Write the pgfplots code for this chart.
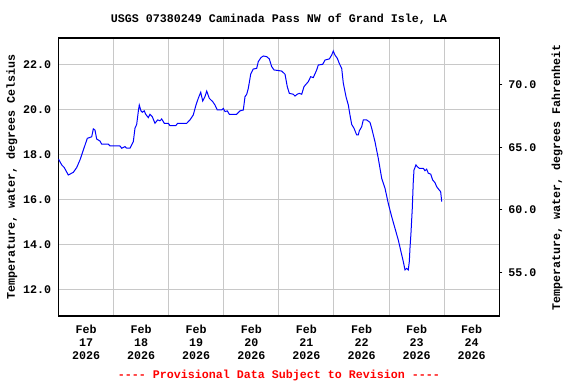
\documentclass[border=0pt]{standalone}
\usepackage{pgfplots}
\pgfplotsset{compat=1.18}
\usepackage{fontspec}
\setmonofont{Liberation Mono}
\newcommand{\chartfont}{\ttfamily\bfseries\fontsize{8.75}{9.75}\selectfont}
\definecolor{gridgray}{RGB}{200,200,200}
\begin{document}
\begin{tikzpicture}
\begin{axis}[
  at={(0,0)}, anchor=south west,
  scale only axis, width=330.6pt, height=208.5pt,
  xmin=0, xmax=8, ymin=10.844, ymax=23.2,
  axis line style={black, line width=1pt},
  xtick={0,1,...,8}, xticklabels={},
  ytick={12,14,...,22},
  major tick length=0pt,
  grid=major, major grid style={gridgray, line width=0.75pt},
  extra x ticks={0.5,1.5,...,7.5},
  extra x tick labels={{Feb\\17\\2026},{Feb\\18\\2026},{Feb\\19\\2026},{Feb\\20\\2026},{Feb\\21\\2026},{Feb\\22\\2026},{Feb\\23\\2026},{Feb\\24\\2026}},
  extra x tick style={grid=none, major tick length=0pt},
  xticklabel style={align=center, font=\chartfont, yshift=-3pt},
  yticklabel style={font=\chartfont, xshift=-2pt},
  yticklabel={\pgfmathprintnumber[fixed,fixed zerofill,precision=1]{\tick}},
  /pgf/number format/assume math mode=true,
  clip=true,
]
\addplot[color={rgb,255:red,0;green,0;blue,255}, line width=0.75pt] coordinates {
(0.000,17.82)(0.058,17.56)(0.105,17.44)(0.178,17.11)(0.269,17.23)(0.330,17.44)(0.390,17.78)
(0.481,18.44)(0.523,18.74)(0.603,18.81)(0.632,19.16)(0.662,19.11)(0.693,18.71)(0.753,18.62)
(0.784,18.48)(0.904,18.48)(0.935,18.40)(1.116,18.40)(1.147,18.30)(1.207,18.37)(1.238,18.30)
(1.298,18.30)(1.358,18.59)(1.388,19.19)(1.419,19.36)(1.448,19.93)(1.466,20.22)(1.497,19.96)
(1.521,19.90)(1.557,19.96)(1.583,19.81)(1.630,19.66)(1.661,19.81)(1.702,19.70)(1.751,19.41)
(1.800,19.56)(1.842,19.52)(1.873,19.60)(1.920,19.41)(1.993,19.41)(2.024,19.30)(2.127,19.30)
(2.163,19.41)(2.327,19.41)(2.387,19.56)(2.446,19.78)(2.495,20.22)(2.537,20.52)(2.581,20.79)
(2.617,20.40)(2.659,20.60)(2.690,20.84)(2.737,20.52)(2.799,20.37)(2.840,20.22)(2.882,20.00)
(2.962,20.00)(2.991,20.07)(3.022,19.93)(3.064,19.96)(3.100,19.81)(3.234,19.81)(3.294,19.96)
(3.354,20.00)(3.385,20.59)(3.416,20.70)(3.445,20.96)(3.488,21.59)(3.535,21.82)(3.597,21.85)
(3.626,22.15)(3.675,22.33)(3.717,22.40)(3.779,22.37)(3.826,22.27)(3.869,21.93)(3.911,21.78)
(4.051,21.73)(4.111,21.59)(4.152,21.04)(4.189,20.74)(4.261,20.70)(4.292,20.62)(4.334,20.70)
(4.370,20.74)(4.414,20.70)(4.456,21.04)(4.534,21.26)(4.577,21.48)(4.624,21.44)(4.686,21.78)
(4.715,22.00)(4.795,22.03)(4.837,22.22)(4.915,22.27)(4.958,22.44)(4.987,22.62)(5.018,22.44)
(5.060,22.30)(5.096,22.07)(5.140,21.85)(5.169,21.19)(5.218,20.59)(5.260,20.22)(5.290,19.78)
(5.321,19.36)(5.363,19.19)(5.412,18.89)(5.441,18.89)(5.459,19.07)(5.503,19.26)(5.532,19.56)
(5.593,19.56)(5.653,19.45)(5.684,19.19)(5.744,18.59)(5.804,17.85)(5.866,16.96)(5.926,16.52)
(5.985,15.85)(6.047,15.26)(6.107,14.74)(6.167,14.22)(6.216,13.70)(6.258,13.26)(6.289,12.89)
(6.319,12.96)(6.348,12.89)(6.367,13.26)(6.379,13.85)(6.397,14.52)(6.421,15.63)(6.439,16.81)
(6.452,17.33)(6.488,17.56)(6.512,17.48)(6.548,17.41)(6.621,17.41)(6.652,17.30)(6.682,17.37)
(6.711,17.19)(6.755,17.15)(6.791,16.89)(6.833,16.77)(6.864,16.59)(6.911,16.44)(6.936,16.37)
(6.955,15.93)
};
\end{axis}
\begin{axis}[
  at={(0,0)}, anchor=south west,
  scale only axis, width=330.6pt, height=208.5pt,
  xmin=0, xmax=8, ymin=51.5192, ymax=73.76,
  axis x line=none,
  axis y line*=right,
  axis line style={black, line width=1pt},
  ytick={55,60,65,70},
  tick align=outside, major tick length=2.25pt,
  tick style={black, line width=0.75pt},
  yticklabel style={font=\chartfont, xshift=1pt},
  yticklabel={\pgfmathprintnumber[fixed,fixed zerofill,precision=1]{\tick}},
  /pgf/number format/assume math mode=true,
]
\addplot[draw=none] coordinates {(0,60)};
\end{axis}
\node[font=\chartfont] at (165.3pt,222.75pt) {USGS 07380249 Caminada Pass NW of Grand Isle, LA};
\node[font=\chartfont, rotate=90] at (-34.9pt,104.25pt) {Temperature, water, degrees Celsius};
\node[font=\chartfont, rotate=90] at (373.9pt,104.25pt) {Temperature, water, degrees Fahrenheit};
\node[font=\chartfont, text={rgb,255:red,255;green,0;blue,0}] at (165.3pt,-44.25pt) {---- Provisional Data Subject to Revision ----};
\pgfresetboundingbox
\path[use as bounding box] (-43.875pt,-51pt) rectangle (388.125pt,237pt);
\end{tikzpicture}
\end{document}
